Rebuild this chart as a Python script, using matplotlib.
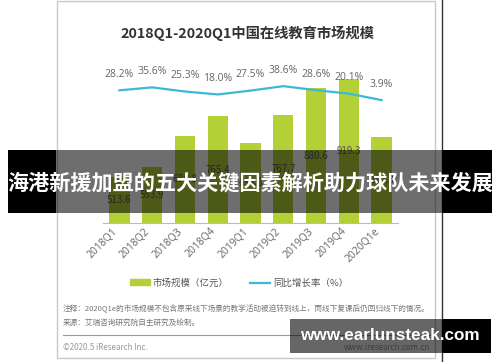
import matplotlib
matplotlib.use("Agg")
import matplotlib.pyplot as plt
from matplotlib.patches import Rectangle
from matplotlib.lines import Line2D

plt.rcParams['font.family'] = ['Noto Sans CJK SC', 'DejaVu Sans']

# data
quarters = ['2018Q1', '2018Q2', '2018Q3', '2018Q4', '2019Q1',
            '2019Q2', '2019Q3', '2019Q4', '2020Q1e']
market_size = [513.6, 553.9, 684.8, 765.4, 654.8, 767.7, 880.6, 919.3, 680.3]
growth = [28.2, 35.6, 25.3, 18.0, 27.5, 38.6, 28.6, 20.1, 3.9]

title = '2018Q1-2020Q1中国在线教育市场规模'
legend_labels = ['市场规模（亿元）', '同比增长率（%）']
note1 = '注释：2020Q1e的市场规模不包含原来线下场景的教学活动被迫转到线上，而线下复课后仍回归线下的情况。'
note2 = '来源：艾瑞咨询研究院自主研究及绘制。'
banner = '海港新援加盟的五大关键因素解析助力球队未来发展'
watermark = 'www.earlunsteak.com'

bar_color = '#b4d037'
line_color = '#3db8d6'

W, H = 500, 362
fig = plt.figure(figsize=(W / 100, H / 100), dpi=100)

def px_axes(x0, y0, x1, y1, **kw):
    # axes from pixel box (top-left origin)
    return fig.add_axes([x0 / W, 1 - y1 / H, (x1 - x0) / W, (y1 - y0) / H], **kw)

# background layer: frame, notes
bg = px_axes(0, 0, W, H, zorder=0)
bg.set_xlim(0, W)
bg.set_ylim(H, 0)
bg.axis('off')
bg.add_patch(Rectangle((57, 1), 378, 357, fill=False, ec='#c8c8c8', lw=1))
bg.plot([442, 442], [0, H], color='#333333', lw=1)
bg.text(247, 33, title, ha='center', va='center', fontsize=10.3,
        fontweight='bold', color='#333333')
bg.text(63, 309, note1, ha='left', va='center', fontsize=5.5, color='#777777')
bg.text(63, 323, note2, ha='left', va='center', fontsize=5.5, color='#777777')
bg.plot([63, 430], [335, 335], color='#999999', lw=0.8)
bg.text(63, 348, '©2020.5 iResearch Inc.', ha='left', va='center',
        fontsize=5.8, color='#999999')
bg.text(430, 348, 'www.iresearch.com.cn', ha='right', va='center',
        fontsize=5.8, color='#999999')

# main chart
ax = px_axes(103, 60, 398, 223, zorder=1)
ax.patch.set_alpha(0)
x = list(range(len(quarters)))
bars = ax.bar(x, market_size, width=0.62, color=bar_color, zorder=2)
ax.bar_label(bars, labels=[f'{v:.1f}' for v in market_size],
             label_type='center', fontsize=7, color='#555555')
ax.set_xlim(-0.5, 8.5)
ax.set_ylim(325, 996)
ax.set_yticks([])
ax.set_xticks(x)
ax.set_xticklabels(quarters, rotation=45, ha='right', fontsize=7.5,
                   color='#666666', family=['Open Sans', 'DejaVu Sans'])
ax.tick_params(axis='x', length=0, pad=2)
for s in ['top', 'left', 'right']:
    ax.spines[s].set_visible(False)
ax.spines['bottom'].set_color('#bbbbbb')

ax2 = ax.twinx()
ax2.plot(x, growth, color=line_color, lw=1.6, zorder=3)
for xi, g in zip(x, growth):
    ax2.annotate(f'{g:.1f}%', (xi, g), xytext=(0, 7.5), textcoords='offset points',
                 ha='center', va='bottom', fontsize=7.5, color='#666666',
                 family=['Open Sans', 'DejaVu Sans'])
ax2.set_ylim(-301, 103.5)
ax2.axis('off')

handles = [Rectangle((0, 0), 1, 1, color=bar_color),
           Line2D([0], [0], color=line_color, lw=1.6)]
fig.legend(handles, legend_labels, loc='center', ncol=2,
           bbox_to_anchor=(239 / W, 1 - 283 / H), frameon=False,
           fontsize=6.8, labelcolor='#555555', handlelength=2.1,
           handleheight=0.6, handletextpad=0.3, columnspacing=2.3)

# overlays on top
fg = px_axes(0, 0, W, H, zorder=5)
fg.set_xlim(0, W)
fg.set_ylim(H, 0)
fg.axis('off')
fg.patch.set_alpha(0)
fg.add_patch(Rectangle((8, 150), 48, 63, color='black', lw=0))
fg.add_patch(Rectangle((56, 150), 386, 63, color='black', alpha=0.57, lw=0))
fg.add_patch(Rectangle((442, 150), 50, 63, color='black', lw=0))
fg.text(250, 183, banner, ha='center', va='center', fontsize=15.2,
        fontweight='bold', color='white')
fg.add_patch(Rectangle((290, 319), 152, 34, color='black', alpha=0.6, lw=0))
fg.add_patch(Rectangle((442, 319), 49, 34, color='black', lw=0))
fg.text(390, 336, watermark, ha='center', va='center', fontsize=12.3,
        fontweight='bold', color='white', family='Liberation Sans')

fig.savefig('out.png', dpi=100)
